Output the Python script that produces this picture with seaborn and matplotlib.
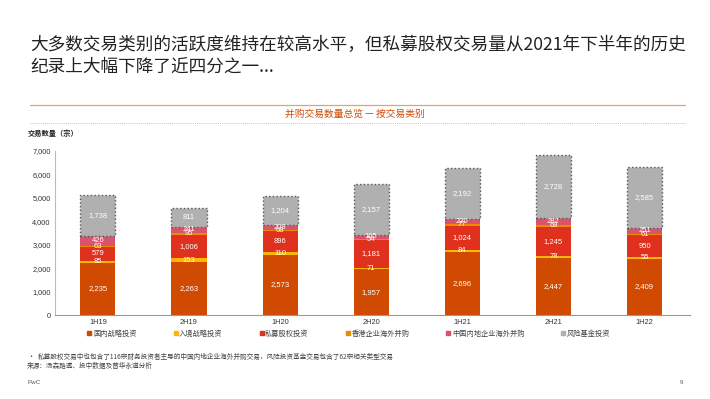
import matplotlib
matplotlib.use("Agg")
import matplotlib.pyplot as plt
import seaborn as sns
import numpy as np
import pandas as pd
from matplotlib.lines import Line2D
from matplotlib.ticker import FuncFormatter

sns.set_theme(style="white")
plt.rcParams['font.family'] = ['Noto Sans CJK SC', 'DejaVu Sans']

periods = ["1H19", "2H19", "1H20", "2H20", "1H21", "2H21", "1H22"]
domestic = [2235, 2263, 2573, 1957, 2696, 2447, 2409]
inbound = [85, 153, 110, 71, 84, 78, 55]
pe = [579, 1006, 896, 1181, 1024, 1245, 950]
hk_outbound = [63, 95, 68, 54, 77, 69, 61]
cn_outbound = [426, 241, 208, 165, 220, 282, 251]
vc = [1738, 811, 1204, 2157, 2192, 2728, 2585]

series_names = ["国内战略投资", "入境战略投资", "私募股权投资", "香港企业海外并购", "中国内地企业海外并购", "风险基金投资"]
series = [domestic, inbound, pe, hk_outbound, cn_outbound, vc]
colors = ["#D04A02", "#FFB600", "#E0301E", "#EB8C00", "#DB536A", "#B0B0B0"]

fig = plt.figure(figsize=(7.10, 3.99), dpi=100)
ax = fig.add_axes([0.0775, 0.2105, 0.8945, 0.411])

bottoms = np.zeros(len(periods))
for name, vals, col in zip(series_names, series, colors):
    n_before = len(ax.patches)
    is_vc = name == "风险基金投资"
    df = pd.DataFrame({"period": periods, "value": vals})
    sns.barplot(data=df, x="period", y="value", color=col, saturation=1,
                width=0.385, ax=ax, errorbar=None,
                edgecolor="#555555" if is_vc else "none",
                linewidth=1.0 if is_vc else 0,
                linestyle=":" if is_vc else "-", zorder=3 if is_vc else 2)
    new = ax.patches[n_before:]
    for p, b, v in zip(new, bottoms, vals):
        p.set_y(b)
        cx = p.get_x() + p.get_width() / 2
        ax.text(cx, b + v / 2, f"{v:,}", ha="center", va="center",
                color="white", fontsize=5.5, family=["Liberation Sans"], zorder=5)
    bottoms = bottoms + np.array(vals)

ax.set_xlim(-0.47, 6.5)
ax.set_ylim(0, 7000)
ax.set_yticks(range(0, 7001, 1000))
ax.yaxis.set_major_formatter(FuncFormatter(lambda v, _: f"{int(v):,}"))
ax.set_xlabel("")
ax.set_ylabel("")
ax.tick_params(axis="both", labelsize=5.3, length=0, pad=3, colors="#333333")
for lab in ax.get_xticklabels() + ax.get_yticklabels():
    lab.set_family(["Liberation Sans"])
for s in ["top", "right"]:
    ax.spines[s].set_visible(False)
ax.spines["left"].set_color("#BBBBBB")
ax.spines["bottom"].set_color("#999999")
ax.spines["left"].set_linewidth(0.8)
ax.spines["bottom"].set_linewidth(0.8)

# y axis label
fig.text(28 / 710, 1 - 133 / 399, "交易数量（宗）", fontsize=5.2, fontweight="bold",
         ha="left", va="center", color="#222222")

# legend
handles = [Line2D([0], [0], marker="s", linestyle="none", markersize=3.5,
                  markerfacecolor=c, markeredgecolor=c) for c in colors]
fig.legend(handles, series_names, loc="center left", bbox_to_anchor=(80 / 710, 1 - 334 / 399),
           ncol=6, frameon=False, fontsize=5.2, handletextpad=0.1, columnspacing=5.0,
           handlelength=0.8, labelcolor="#444444")

# title
fig.text(30 / 710, 1 - 45 / 399, "大多数交易类别的活跃度维持在较高水平，但私募股权交易量从2021年下半年的历史",
         fontsize=12.7, ha="left", va="center", color="#222222")
fig.text(30 / 710, 1 - 67 / 399, "纪录上大幅下降了近四分之一...",
         fontsize=12.7, ha="left", va="center", color="#222222")

# top rule and subtitle
fig.add_artist(Line2D([30 / 710, 685 / 710], [1 - 105 / 399] * 2, color="#E8A070", lw=0.9))
fig.text(0.5, 1 - 114 / 399, "并购交易数量总览 — 按交易类别", fontsize=7, ha="center",
         va="center", color="#D04A02")
fig.add_artist(Line2D([30 / 710, 685 / 710], [1 - 123 / 399] * 2, color="#C8A890", lw=0.6,
                      linestyle=(0, (1, 1.5))))

# footnotes
fig.text(27 / 710, 1 - 357 / 399, "•", fontsize=5, ha="left", va="center", color="#444444")
fig.text(38 / 710, 1 - 357 / 399,
         "私募股权交易中也包含了116宗财务投资者主导的中国内地企业海外并购交易，风险投资基金交易包含了62宗相关类型交易",
         fontsize=4.8, ha="left", va="center", color="#444444")
fig.text(27 / 710, 1 - 366 / 399, "来源：汤森路透、投中数据及普华永道分析",
         fontsize=4.8, ha="left", va="center", color="#444444")
fig.text(27 / 710, 1 - 383 / 399, "PwC", fontsize=4.5, ha="left", va="center", color="#555555",
         family=["Liberation Sans"])
fig.text(683 / 710, 1 - 383 / 399, "9", fontsize=4.5, ha="right", va="center", color="#555555",
         family=["Liberation Sans"])

fig.savefig("out.png", dpi=100)
